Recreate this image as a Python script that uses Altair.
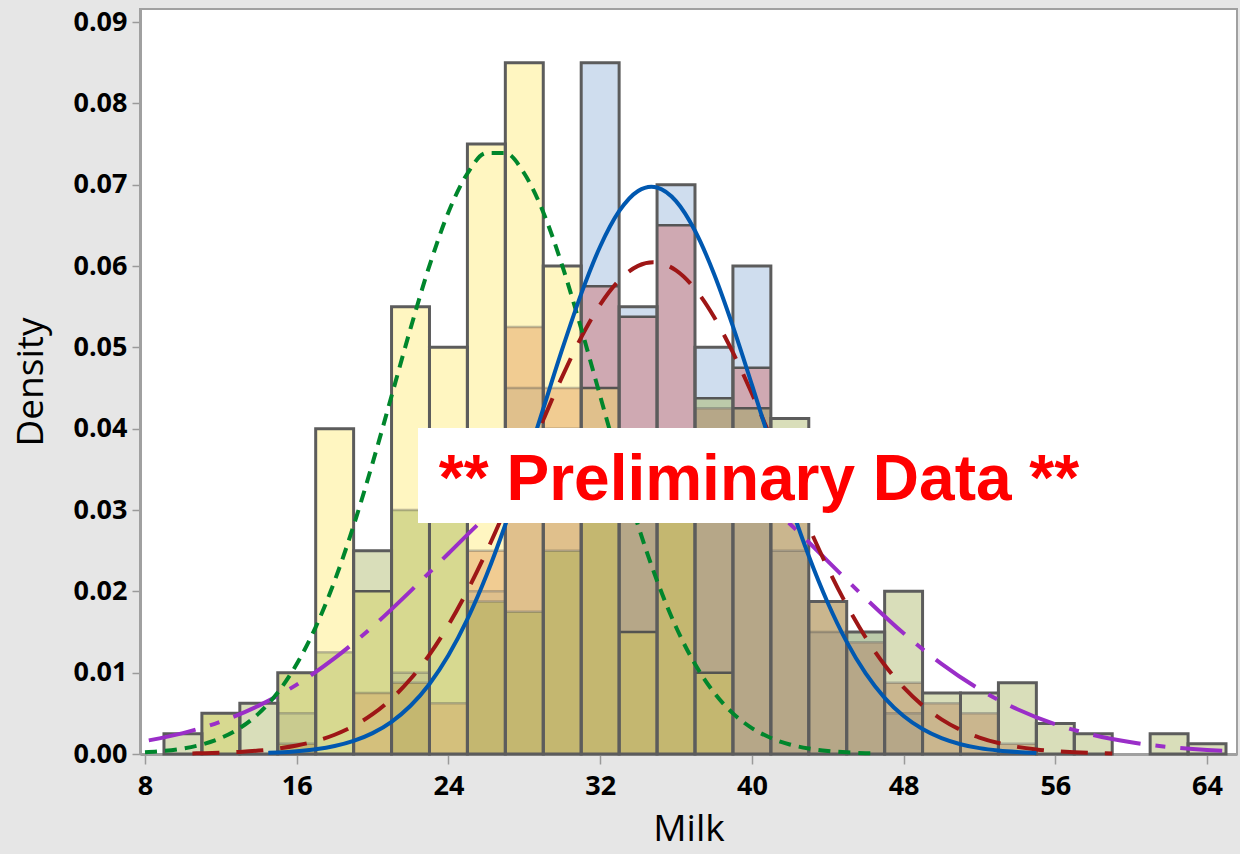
import altair as alt
import pandas as pd

# Histogram bins are 2 wide, centred on the even values 10 ... 64
bin_mid = list(range(10, 66, 2))

# Density of each overlaid group, one value per bin
dens_yellow = [0, 0.005, 0, 0.01, 0.04, 0.02, 0.055, 0.05, 0.075, 0.085, 0.06, 0.045, 0.015, 0.03,
               0.01, 0, 0, 0, 0, 0, 0, 0, 0, 0, 0, 0, 0, 0]
dens_blue = [0, 0, 0, 0.005, 0, 0, 0.01, 0, 0.02, 0.045, 0.04, 0.085, 0.055, 0.07, 0.05, 0.06,
             0.025, 0.015, 0.015, 0.005, 0, 0, 0, 0, 0, 0, 0, 0]
dens_red = [0, 0, 0, 0.00125, 0, 0.0075, 0.00875, 0.00625, 0.025, 0.0525, 0.045, 0.0575, 0.05375,
            0.065, 0.0425, 0.0475, 0.03375, 0.01875, 0.01375, 0.00875, 0.00625, 0.005, 0.00125,
            0, 0, 0, 0, 0]
dens_olive = [0.0025, 0.005, 0.00625, 0.01, 0.0125, 0.025, 0.03, 0.03, 0.01875, 0.0175, 0.025,
              0.035, 0.03375, 0.035, 0.04375, 0.0425, 0.04125, 0.01875, 0.015, 0.02, 0.0075, 0.0075,
              0.00875, 0.00375, 0.0025, 0, 0.0025, 0.00125]

# Fitted normal density lines for each group
fit_yellow_x = [8, 9, 10, 11, 12, 13, 14, 15, 16, 17, 18, 19, 20, 21, 22, 23, 24, 25, 26, 27, 28,
                29, 30, 31, 32, 33, 34, 35, 36, 37, 38, 39, 40, 41, 42, 43, 44, 45, 46, 46.5]
fit_yellow_y = [0.000201, 0.000375, 0.000674, 0.00117, 0.00197, 0.00319, 0.00499, 0.00756,
                0.01106, 0.01561, 0.0213, 0.02808, 0.03577, 0.04401, 0.05231, 0.06005, 0.06661,
                0.07137, 0.07388, 0.07388, 0.07137, 0.06661, 0.06005, 0.05231, 0.04401, 0.03577,
                0.02808, 0.0213, 0.01561, 0.01106, 0.00756, 0.00499, 0.00319, 0.00197, 0.00117,
                0.000674, 0.000375, 0.000201, 0.000104, 0.000074]

fit_blue_x = [14.5, 15, 16, 17, 18, 19, 20, 21, 22, 23, 24, 25, 26, 27, 28, 29, 30, 31, 32, 33,
              34, 34.7, 35, 36, 37, 38, 39, 40, 41, 42, 43, 44, 45, 46, 47, 48, 49, 50, 51, 52,
              53, 54, 55]
fit_blue_y = [0.000137, 0.000185, 0.000333, 0.000582, 0.000984, 0.001613, 0.002566, 0.003962,
              0.005932, 0.008609, 0.01213, 0.01657, 0.02194, 0.02819, 0.03513, 0.04246, 0.04977,
              0.05658, 0.0624, 0.06674, 0.06923, 0.06975, 0.06965, 0.06797, 0.06433, 0.05906,
              0.05258, 0.04541, 0.03804, 0.03089, 0.02434, 0.0186, 0.01379, 0.00991, 0.00691,
              0.00467, 0.003066, 0.00195, 0.001203, 0.00072, 0.000418, 0.000235, 0.000128]

fit_red_x = [10.5, 11, 12, 13, 14, 15, 16, 17, 18, 19, 20, 21, 22, 23, 24, 25, 26, 27, 28, 29, 30,
             31, 32, 33, 34, 34.8, 35, 36, 37, 38, 39, 40, 41, 42, 43, 44, 45, 46, 47, 48, 49, 50,
             51, 52, 53, 54, 55, 56, 57, 58, 59]
fit_red_y = [0.0000688, 0.0000907, 0.000155, 0.000258, 0.000421, 0.000672, 0.001046, 0.001592,
             0.002367, 0.003443, 0.004892, 0.006794, 0.009219, 0.01222, 0.01585, 0.02008, 0.02485,
             0.03007, 0.03556, 0.04109, 0.0464, 0.05122, 0.05525, 0.05824, 0.06001, 0.06045,
             0.06042, 0.05946, 0.05719, 0.05375, 0.04937, 0.04432, 0.03889, 0.03334, 0.02794,
             0.02288, 0.01831, 0.01432, 0.01095, 0.00818, 0.005974, 0.004262, 0.002972,
             0.002026, 0.001349, 0.000878, 0.000559, 0.000348, 0.000211, 0.000125, 0.0000727]

fit_olive_x = [8.2, 10, 12, 14, 16, 18, 20, 22, 24, 26, 28, 30, 32, 33.8, 36, 38, 40, 42, 44, 46,
               48, 50, 52, 54, 56, 58, 60, 62, 64, 64.8]
fit_olive_y = [0.001677, 0.00257, 0.003985, 0.005944, 0.00853, 0.01178, 0.01566, 0.02003, 0.02465,
               0.0292, 0.03327, 0.03649, 0.03851, 0.03911, 0.03821, 0.03593, 0.03251, 0.02831,
               0.02372, 0.01913, 0.01484, 0.01108, 0.007963, 0.005503, 0.003662, 0.002345,
               0.001444, 0.000856, 0.000488, 0.000386]

x_ticks = [8, 16, 24, 32, 40, 48, 56, 64]
y_ticks = [0.0, 0.01, 0.02, 0.03, 0.04, 0.05, 0.06, 0.07, 0.08, 0.09]

# Fill shown where a given set of groups overlaps (Y=yellow, B=blue, R=red, G=olive)
overlap_fill = {
    "Y": "#FFF6C1", "B": "#CFDDEE", "G": "#D9DEBA",
    "YG": "#D7D990", "YR": "#F1CC92", "BR": "#CFA9B2", "YBR": "#E0C08C",
    "YRG": "#D4C07C", "YBG": "#C9CB8F", "BRG": "#B6A788", "BG": "#BCCAAA",
    "RG": "#CAB68E", "YBRG": "#C4B770",
}

groups = {"Y": dens_yellow, "B": dens_blue, "R": dens_red, "G": dens_olive}
key_order = "YBRG"
paint_order = ["B", "R", "G", "Y"]

seg_rows, edge_rows, outline_rows = [], [], []
for i, mid in enumerate(bin_mid):
    h = {k: groups[k][i] for k in groups}
    top = max(h.values())
    if top <= 0:
        continue
    outline_rows.append({"x0": mid - 1, "x1": mid + 1, "y0": 0.0, "y1": top})
    lo = 0.0
    for hi in sorted(set(v for v in h.values() if v > 0)):
        key = "".join(k for k in key_order if h[k] >= hi)
        seg_rows.append({"x0": mid - 1, "x1": mid + 1, "y0": lo, "y1": hi,
                         "fill": overlap_fill[key]})
        lo = hi
    for k, v in h.items():
        if 0 < v < top:
            later = paint_order[paint_order.index(k) + 1:]
            covered = any(h[j] > v for j in later)
            edge_rows.append({"x0": mid - 1, "x1": mid + 1, "y0": v,
                              "op": 0.35 if covered else 0.95})

segs = pd.DataFrame(seg_rows)
edges = pd.DataFrame(edge_rows)
outlines = pd.DataFrame(outline_rows)

x_scale = alt.Scale(domain=[7.736, 65.58], nice=False, zero=False)
y_scale = alt.Scale(domain=[0, 0.0916], nice=False, zero=False)

x_axis = alt.Axis(values=x_ticks, title="Milk", grid=False, labelFlush=False,
                  labelFont="Open Sans", labelFontWeight="bold", labelFontSize=27,
                  labelColor="black", labelPadding=9, tickSize=10, tickWidth=1.5,
                  tickColor="#9A9A9A", domainColor="#A0A0A0", domainWidth=3,
                  titleFont="Open Sans", titleFontWeight="normal", titleFontSize=37,
                  titleColor="black", titlePadding=12)
y_axis = alt.Axis(values=y_ticks, format=".2f", title="Density", grid=False,
                  labelFont="Open Sans", labelFontWeight="bold", labelFontSize=27,
                  labelColor="black", labelPadding=5, tickSize=8, tickWidth=1.5,
                  tickColor="#9A9A9A", domainColor="#A0A0A0", domainWidth=3,
                  titleFont="Open Sans", titleFontWeight="normal", titleFontSize=37,
                  titleColor="black", titlePadding=22)

X0 = alt.X("x0:Q", scale=x_scale, axis=x_axis)
Y0 = alt.Y("y0:Q", scale=y_scale, axis=y_axis)

bars = alt.Chart(segs).mark_rect().encode(
    x=X0, x2="x1:Q", y=Y0, y2="y1:Q",
    fill=alt.Fill("fill:N", scale=None),
)

inner_edges = alt.Chart(edges).mark_rule(color="#4E4E4E", strokeWidth=2.5).encode(
    x=X0, x2="x1:Q", y=Y0,
    opacity=alt.Opacity("op:Q", scale=None),
)

outline = alt.Chart(outlines).mark_rect(fillOpacity=0, stroke="#5C5C5C", strokeWidth=3).encode(
    x=X0, x2="x1:Q", y=Y0, y2="y1:Q",
)


def fit_line(xs, ys, color, dash=None):
    df = pd.DataFrame({"x0": xs, "y0": ys})
    kw = {"color": color, "strokeWidth": 4, "interpolate": "monotone", "strokeCap": "butt"}
    if dash:
        kw["strokeDash"] = dash
    return alt.Chart(df).mark_line(**kw).encode(x=X0, y=Y0)


line_olive = fit_line(fit_olive_x, fit_olive_y, "#9A2EC8", [48, 15, 10, 15])
line_red = fit_line(fit_red_x, fit_red_y, "#9E1616", [27, 17])
line_yellow = fit_line(fit_yellow_x, fit_yellow_y, "#00862C", [12, 8])
line_blue = fit_line(fit_blue_x, fit_blue_y, "#0058B0")

note = pd.DataFrame({"text": ["** Preliminary Data **"]})
note_box = alt.Chart(note).mark_rect(color="white").encode(
    x=alt.value(278), x2=alt.value(950), y=alt.value(419), y2=alt.value(514)
)
note_text = alt.Chart(note).mark_text(
    font="Liberation Sans", fontWeight="bold", fontSize=64, color="#FF0000",
    align="center", baseline="alphabetic",
).encode(x=alt.value(619), y=alt.value(491), text="text:N")

chart = alt.layer(
    bars, inner_edges, outline, line_olive, line_red, line_yellow, line_blue, note_box, note_text
).properties(
    width=1097, height=745,
    autosize=alt.AutoSizeParams(type="none"),
    padding={"left": 140, "top": 9, "right": 3, "bottom": 100},
).configure(
    background="#E6E6E6"
).configure_view(
    fill="white", stroke="#A0A0A0", strokeWidth=2
)

chart.save("out.html", embed_options={"renderer": "svg", "actions": False})
